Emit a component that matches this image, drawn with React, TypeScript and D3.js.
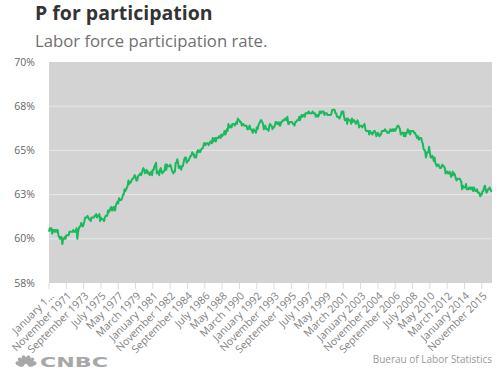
import React, { useRef, useEffect } from 'react';
import * as d3 from 'd3';

const TITLE = 'P for participation';
const SUBTITLE = 'Labor force participation rate.';
const SOURCE = 'Buerau of Labor Statistics';
const BRAND = 'CNBC';

const MONTH_NAMES = ['January', 'February', 'March', 'April', 'May', 'June', 'July', 'August', 'September', 'October', 'November', 'December'];
const START_YEAR = 1970;

// Monthly labor force participation rate, Jan 1970 - Dec 2016 (%)
const RATE_1970S = [
  60.4, 60.6, 60.5, 60.6, 60.3, 60.5, 60.5, 60.4, 60.5, 60.4, 60.5, 60.5,
  60.2, 60.1, 60.0, 60.1, 60.1, 59.7, 60.0, 60.0, 60.1, 60.0, 60.2, 60.2,
  60.2, 60.2, 60.4, 60.4, 60.4, 60.4, 60.4, 60.5, 60.4, 60.4, 60.4, 60.6,
  60.0, 60.4, 60.6, 60.7, 60.7, 60.9, 60.8, 60.7, 60.8, 61.0, 61.2, 61.2,
  61.2, 61.3, 61.2, 61.1, 61.1, 61.0, 61.2, 61.2, 61.2, 61.2, 61.3, 61.3,
  61.4, 61.2, 61.3, 61.3, 61.4, 61.0, 61.2, 61.1, 61.1, 61.1, 61.0, 61.2,
  61.3, 61.3, 61.3, 61.6, 61.5, 61.6, 61.7, 61.8, 61.6, 61.6, 61.8, 61.8,
  61.6, 61.9, 62.0, 62.1, 62.0, 62.3, 62.2, 62.2, 62.2, 62.3, 62.5, 62.5,
  62.8, 62.7, 62.8, 62.9, 63.0, 63.3, 63.1, 63.2, 63.2, 63.3, 63.4, 63.4,
  63.5, 63.6, 63.5, 63.3, 63.3, 63.5, 63.6, 63.6, 63.7, 63.6, 63.7, 63.9,
];
const RATE_1980S = [
  64.0, 63.9, 63.7, 63.8, 63.9, 63.7, 63.8, 63.7, 63.6, 63.7, 63.8, 63.6,
  63.9, 63.9, 64.1, 64.2, 64.3, 63.7, 63.8, 63.8, 63.6, 63.9, 64.0, 63.8,
  63.7, 63.8, 63.8, 63.9, 64.2, 63.9, 64.2, 64.1, 64.1, 64.1, 64.2, 64.1,
  63.9, 63.8, 63.7, 63.8, 63.8, 64.3, 64.3, 64.5, 64.3, 64.0, 64.1, 64.1,
  63.9, 64.1, 64.1, 64.3, 64.5, 64.6, 64.6, 64.3, 64.4, 64.4, 64.5, 64.6,
  64.7, 64.7, 64.9, 64.8, 64.8, 64.6, 64.7, 64.6, 64.9, 65.0, 64.9, 65.0,
  64.9, 65.0, 65.1, 65.1, 65.2, 65.4, 65.4, 65.3, 65.4, 65.4, 65.4, 65.3,
  65.4, 65.5, 65.5, 65.4, 65.7, 65.5, 65.6, 65.7, 65.5, 65.7, 65.7, 65.7,
  65.8, 65.8, 65.7, 65.9, 65.8, 65.9, 65.9, 66.1, 65.9, 66.0, 66.2, 66.1,
  66.5, 66.3, 66.3, 66.4, 66.3, 66.5, 66.5, 66.5, 66.4, 66.5, 66.6, 66.5,
];
const RATE_1990S = [
  66.8, 66.7, 66.7, 66.6, 66.6, 66.4, 66.5, 66.5, 66.4, 66.4, 66.4, 66.4,
  66.2, 66.2, 66.3, 66.4, 66.2, 66.2, 66.1, 66.0, 66.2, 66.1, 66.1, 66.0,
  66.3, 66.2, 66.4, 66.5, 66.6, 66.7, 66.7, 66.6, 66.5, 66.2, 66.3, 66.4,
  66.2, 66.2, 66.2, 66.1, 66.4, 66.5, 66.4, 66.4, 66.2, 66.3, 66.3, 66.4,
  66.6, 66.6, 66.5, 66.5, 66.6, 66.4, 66.4, 66.6, 66.6, 66.7, 66.7, 66.7,
  66.8, 66.8, 66.7, 66.9, 66.5, 66.5, 66.6, 66.6, 66.6, 66.6, 66.5, 66.5,
  66.4, 66.6, 66.6, 66.7, 66.7, 66.7, 66.9, 66.7, 66.9, 67.0, 66.9, 67.0,
  67.0, 66.9, 67.1, 67.1, 67.1, 67.1, 67.2, 67.1, 67.1, 67.1, 67.1, 67.2,
  67.1, 67.1, 67.1, 66.9, 67.0, 67.0, 66.9, 67.0, 67.2, 67.2, 67.1, 67.2,
  67.2, 67.2, 67.0, 67.1, 67.1, 67.1, 67.0, 67.0, 67.0, 67.0, 67.0, 67.1,
];
const RATE_2000S = [
  67.3, 67.3, 67.3, 67.3, 67.1, 67.1, 66.9, 66.9, 66.9, 66.8, 66.9, 67.0,
  67.2, 67.1, 67.2, 66.9, 66.7, 66.7, 66.8, 66.5, 66.8, 66.7, 66.7, 66.7,
  66.5, 66.8, 66.6, 66.7, 66.7, 66.6, 66.5, 66.6, 66.7, 66.6, 66.3, 66.4,
  66.4, 66.4, 66.3, 66.4, 66.4, 66.5, 66.2, 66.1, 66.1, 66.1, 66.1, 65.9,
  66.1, 66.0, 66.0, 65.9, 66.0, 66.1, 66.1, 66.0, 65.8, 65.9, 66.0, 65.9,
  65.8, 65.9, 65.9, 66.1, 66.1, 66.1, 66.1, 66.2, 66.1, 66.1, 66.0, 66.0,
  66.0, 66.1, 66.2, 66.1, 66.1, 66.2, 66.1, 66.2, 66.1, 66.2, 66.3, 66.4,
  66.4, 66.3, 66.2, 65.9, 66.0, 66.0, 66.0, 65.8, 66.0, 65.8, 66.0, 66.0,
  66.2, 66.0, 66.1, 65.9, 66.1, 66.1, 66.1, 66.1, 66.0, 66.0, 65.9, 65.8,
  65.7, 65.8, 65.6, 65.7, 65.7, 65.7, 65.5, 65.4, 65.1, 65.0, 65.0, 64.6,
];
const RATE_2010S = [
  64.8, 64.9, 64.9, 65.2, 64.9, 64.6, 64.6, 64.7, 64.6, 64.4, 64.6, 64.3,
  64.2, 64.1, 64.2, 64.2, 64.1, 64.0, 64.0, 64.1, 64.2, 64.1, 64.1, 64.0,
  63.7, 63.8, 63.8, 63.7, 63.7, 63.8, 63.7, 63.5, 63.6, 63.8, 63.6, 63.7,
  63.6, 63.4, 63.3, 63.4, 63.4, 63.4, 63.4, 63.3, 63.2, 62.8, 63.0, 62.9,
  62.9, 62.9, 63.1, 62.8, 62.8, 62.8, 62.9, 62.9, 62.8, 62.9, 62.9, 62.7,
  62.9, 62.8, 62.7, 62.7, 62.8, 62.6, 62.6, 62.6, 62.4, 62.5, 62.5, 62.7,
  62.7, 62.9, 63.0, 62.8, 62.6, 62.7, 62.8, 62.8, 62.9, 62.8, 62.7, 62.7,
];
const RATE = [...RATE_1970S, ...RATE_1980S, ...RATE_1990S, ...RATE_2000S, ...RATE_2010S];

const Y_DOMAIN = [57.5, 70];
const Y_TICKS = [57.5, 60, 62.5, 65, 67.5, 70];
const TICK_EVERY = 22;

export default function App() {
  const ref = useRef<SVGSVGElement>(null);

  useEffect(() => {
    const svg = d3.select(ref.current);
    svg.selectAll('*').remove();

    const W = 500, H = 378;
    const left = 49, right = 492, top = 62, bottom = 283;
    const font = "'Open Sans', 'Noto Sans', sans-serif";

    const months = RATE.map((_, i) => `${MONTH_NAMES[i % 12]} ${START_YEAR + Math.floor(i / 12)}`);
    const x = d3.scalePoint<string>().domain(months).range([left, right]);
    const y = d3.scaleLinear().domain(Y_DOMAIN).range([bottom, top]);

    svg.append('rect').attr('width', W).attr('height', H).attr('fill', '#ffffff');

    // Title
    svg.append('text').attr('x', 35).attr('y', 20)
      .attr('font-family', font).attr('font-weight', 700).attr('font-size', 19.5)
      .attr('fill', '#333333').text(TITLE);
    svg.append('text').attr('x', 35).attr('y', 47)
      .attr('font-family', font).attr('font-size', 16.7)
      .attr('fill', '#707070').text(SUBTITLE);

    // Plot background
    svg.append('rect').attr('x', left).attr('y', top)
      .attr('width', right - left).attr('height', bottom - top)
      .attr('fill', '#d3d3d3');

    // Gridlines
    svg.append('g').selectAll('line').data(Y_TICKS.slice(1, -1)).join('line')
      .attr('x1', left).attr('x2', right)
      .attr('y1', d => y(d)).attr('y2', d => y(d))
      .attr('stroke', '#e8e8e8').attr('stroke-width', 1);

    // Y labels
    const fmt = d3.format('.0f');
    svg.append('g').selectAll('text').data(Y_TICKS).join('text')
      .attr('x', 35).attr('y', d => y(d)).attr('dy', '0.35em')
      .attr('text-anchor', 'end').attr('font-family', font).attr('font-size', 10.5)
      .attr('fill', '#666666').text(d => `${fmt(d)}%`);

    // X ticks
    const tickCats = months.filter((_, i) => i % TICK_EVERY === 0);
    svg.append('g').selectAll('line').data(tickCats).join('line')
      .attr('x1', d => x(d)!).attr('x2', d => x(d)!)
      .attr('y1', bottom).attr('y2', bottom + 6)
      .attr('stroke', '#d5dcf0').attr('stroke-width', 1);

    const labels = svg.append('g').selectAll('text').data(tickCats).join('text')
      .attr('transform', d => `translate(${x(d)! + 3},${bottom + 11}) rotate(-45)`)
      .attr('text-anchor', 'end').attr('dy', '0.35em')
      .attr('font-family', font).attr('font-size', 10.5)
      .attr('fill', '#808080').text(d => d);
    labels.each(function (d) {
      const el = this as SVGTextElement;
      const avail = (x(d)! + 3 - 10) / Math.cos(Math.PI / 4);
      let t = d;
      while (el.getComputedTextLength() > avail && t.length > 1) {
        t = t.slice(0, -1);
        el.textContent = t + '…';
      }
    });

    // Line
    const line = d3.line<number>().x((_, i) => x(months[i])!).y(d => y(d));
    svg.append('path').datum(RATE).attr('d', line)
      .attr('fill', 'none').attr('stroke', '#19b95c').attr('stroke-width', 2)
      .attr('stroke-linejoin', 'round');

    // Source
    svg.append('text').attr('x', right).attr('y', 363)
      .attr('text-anchor', 'end').attr('font-family', font).attr('font-size', 10)
      .attr('fill', '#999999').text(SOURCE);

    // CNBC logo (peacock + wordmark)
    const logo = svg.append('g').attr('transform', 'translate(26,366)');
    const angles = [-72, -44, -16, 16, 44, 72];
    logo.selectAll('ellipse').data(angles).join('ellipse')
      .attr('cx', 0).attr('cy', -6.5).attr('rx', 2.3).attr('ry', 4.5)
      .attr('transform', a => `rotate(${a},0,0)`)
      .attr('fill', '#a8a8a8');
    svg.append('text').attr('x', 40).attr('y', 367)
      .attr('font-family', "'DejaVu Sans', sans-serif").attr('font-weight', 700)
      .attr('font-size', 13.5).attr('textLength', 68).attr('lengthAdjust', 'spacingAndGlyphs')
      .attr('fill', '#a8a8a8').text(BRAND);
  }, []);

  return (
    <svg ref={ref} width={500} height={378}
      style={{ position: 'absolute', left: 0, top: 0, display: 'block' }} />
  );
}
